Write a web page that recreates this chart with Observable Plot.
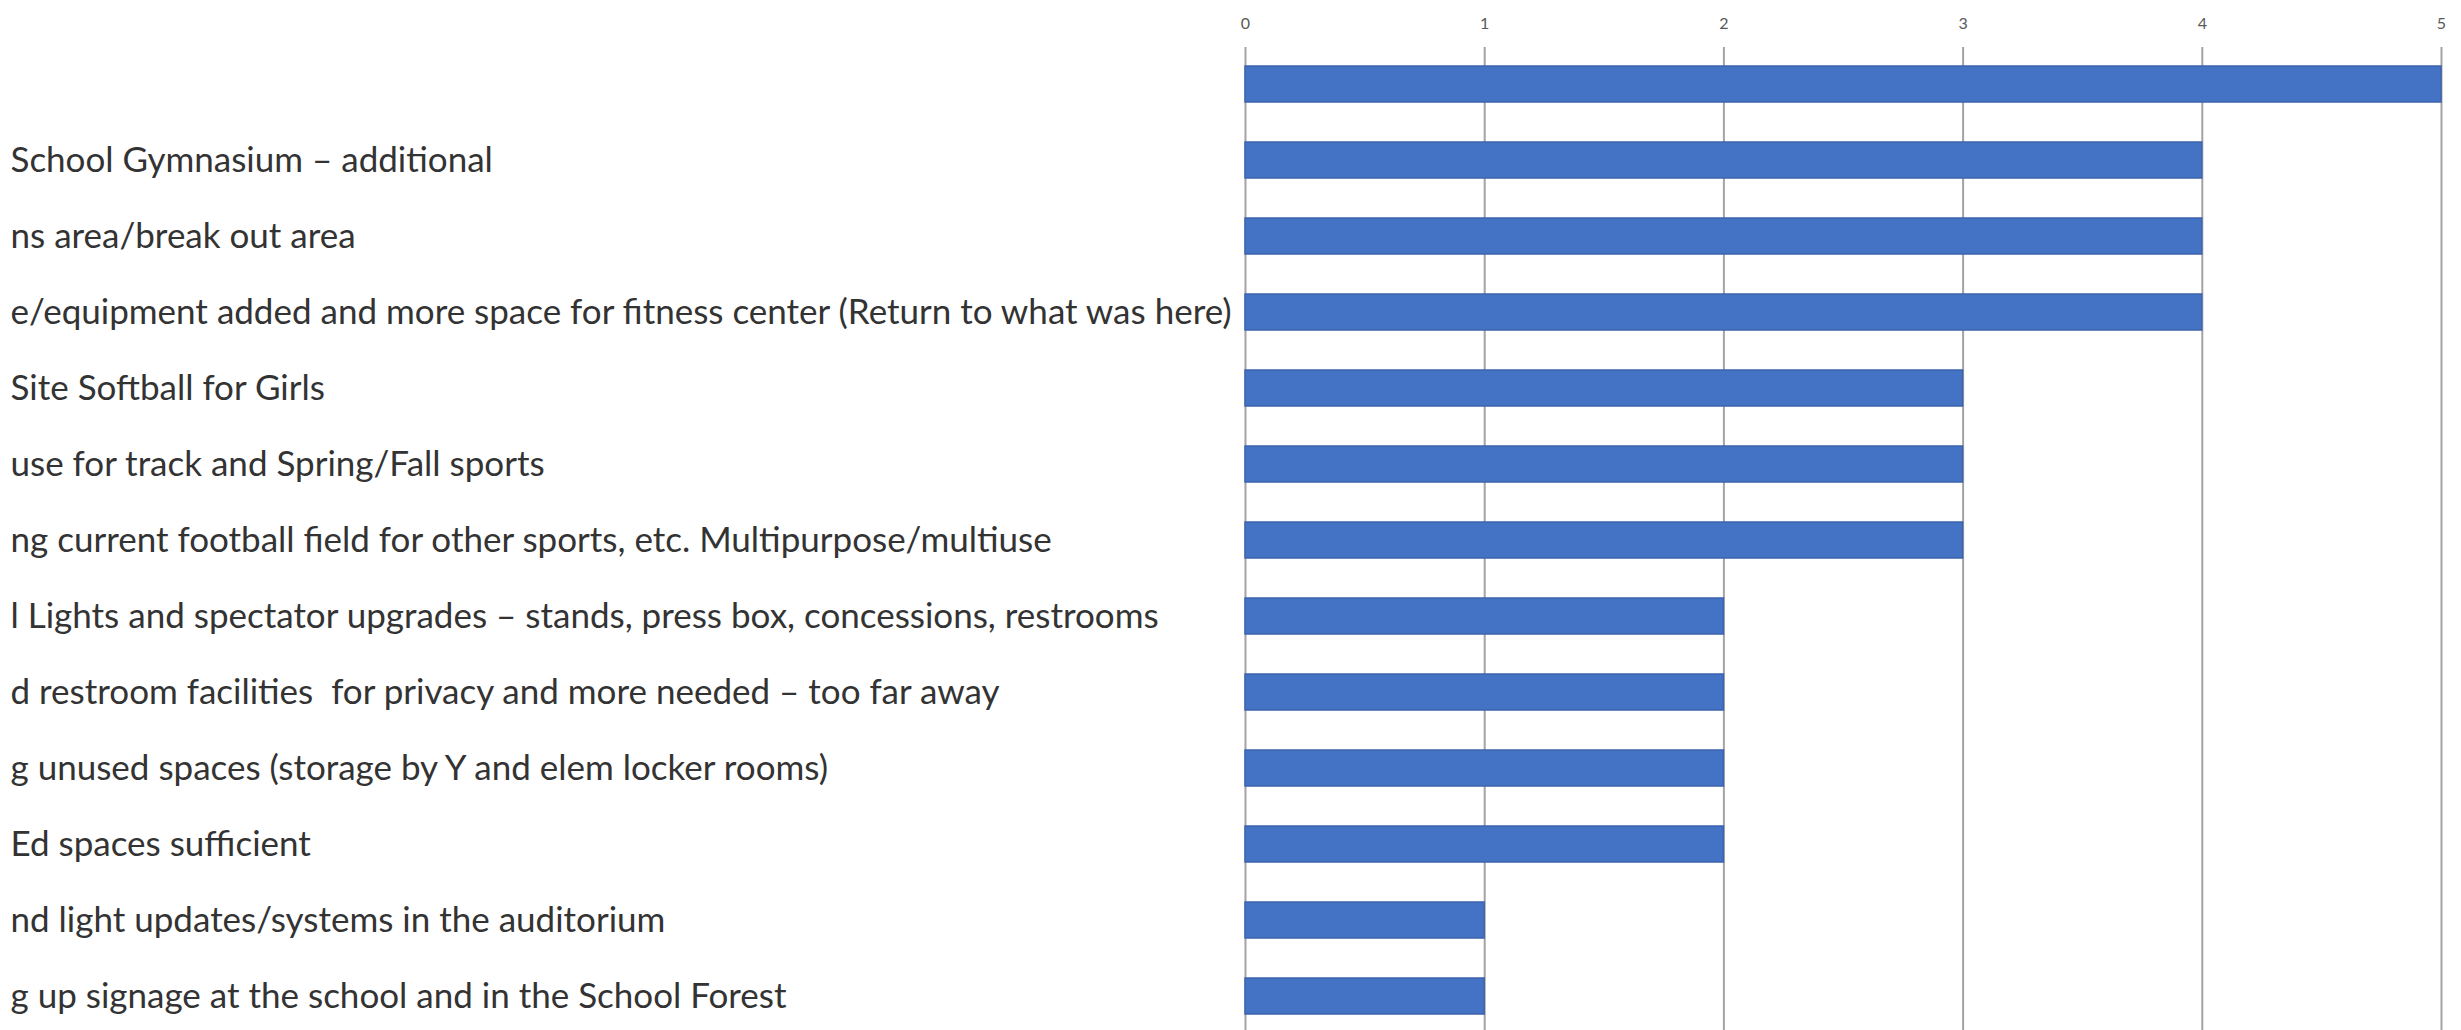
<!DOCTYPE html>
<html>
<head>
<meta charset="utf-8">
<script src="https://cdn.jsdelivr.net/npm/d3@7"></script>
<script src="https://cdn.jsdelivr.net/npm/@observablehq/plot@0.6"></script>
<style>
  html, body { margin: 0; padding: 0; background: #ffffff; }
  #chart svg { display: block; }
</style>
</head>
<body>
<div id="chart"></div>
<script>
// Categories (visible, left-cropped label text as in the picture)
const labels = [
  "",
  "School Gymnasium \u2013 additional",
  "ns area/break out area",
  "e/equipment added and more space for fitness center (Return to what was here)",
  "Site Softball for Girls",
  "use for track and Spring/Fall sports",
  "ng current football field for other sports, etc. Multipurpose/multiuse",
  "l Lights and spectator upgrades \u2013 stands, press box, concessions, restrooms",
  "d restroom facilities  for privacy and more needed \u2013 too far away",
  "g unused spaces (storage by Y and elem locker rooms)",
  "Ed spaces sufficient",
  "nd light updates/systems in the auditorium",
  "g up signage at the school and in the School Forest"
];
const values = [5, 4, 4, 4, 3, 3, 3, 2, 2, 2, 2, 1, 1];
const ticks = [0, 1, 2, 3, 4, 5];

const data = labels.map((label, i) => ({label, value: values[i]}));

const W = 2461, H = 1030, ML = 1245, MT = 47;

const chart = Plot.plot({
  width: W,
  height: H,
  marginLeft: ML,
  marginRight: 20,
  marginTop: MT,
  marginBottom: 0,
  style: {background: "#ffffff", fontFamily: "Lato, 'Open Sans', sans-serif"},
  x: {domain: [0, 5], axis: null, label: null},
  y: {domain: labels, range: [MT, 1033], paddingInner: 0.525, paddingOuter: 0.238, axis: null, label: null},
  marks: [
    Plot.ruleX(ticks, {stroke: "#a3a3a3", strokeWidth: 2}),
    Plot.barX(data, {x: "value", y: "label", fill: "#4472C4", stroke: "#3c64ad", strokeWidth: 1.5}),
    Plot.axisX({anchor: "top", ticks: ticks, tickSize: 0, tickPadding: 19, fontSize: 16, fill: "#595959", label: null, tickFormat: d3.format("d")}),
    Plot.text(data, {
      y: "label", text: "label",
      frameAnchor: "left", textAnchor: "start",
      dx: -(ML - 10),
      fontSize: 35, fill: "#333333"
    })
  ]
});

document.getElementById("chart").appendChild(chart);
</script>
</body>
</html>
